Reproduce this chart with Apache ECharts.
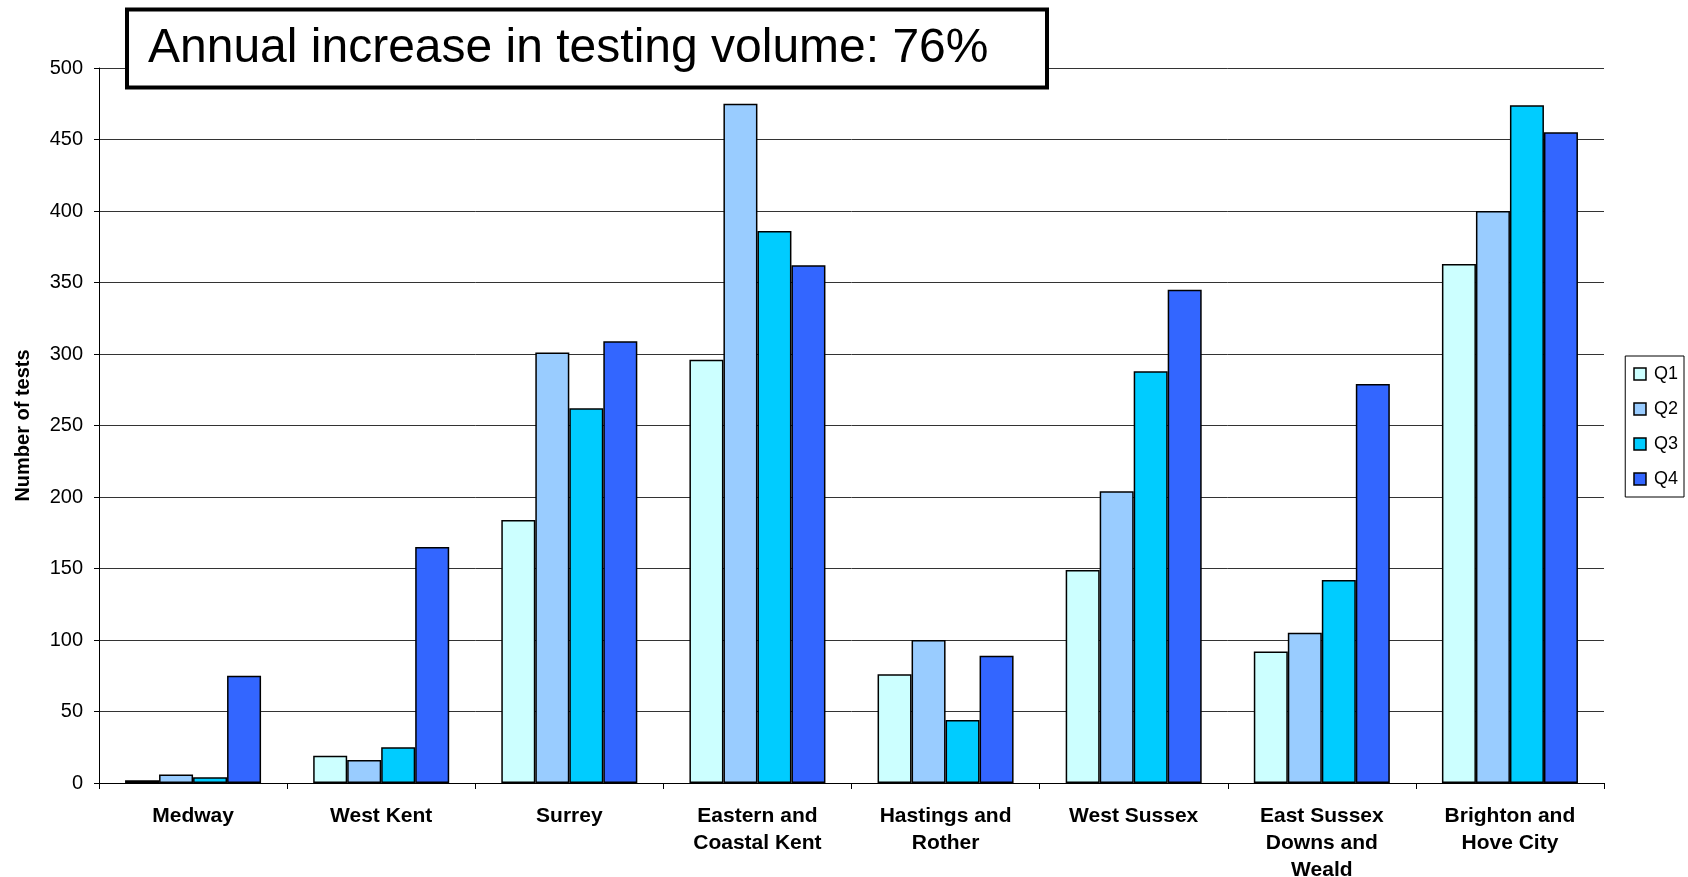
<!DOCTYPE html>
<html><head><meta charset="utf-8">
<script src="https://cdn.jsdelivr.net/npm/echarts@6/dist/echarts.min.js"></script>
<style>html,body{margin:0;padding:0;background:#fff}#c{width:1688px;height:877px}</style>
</head><body><div id="c"></div>
<script>
const categories = ["Medway","West Kent","Surrey","Eastern and\nCoastal Kent","Hastings and\nRother","West Sussex","East Sussex\nDowns and\nWeald","Brighton and\nHove City"];
const q1 = [2, 19, 184, 296, 76, 149, 92, 363];
const q2 = [6, 16, 301, 475, 100, 204, 105, 400];
const q3 = [4, 25, 262, 386, 44, 288, 142, 474];
const q4 = [75, 165, 309, 362, 89, 345, 279, 455];
const seriesNames = ["Q1","Q2","Q3","Q4"];
const colors = ["#CCFFFF","#99CCFF","#00CCFF","#3366FF"];
const titleText = "Annual increase in testing volume: 76%";
const yName = "Number of tests";

const font = "Arial, 'Liberation Sans', sans-serif";
const chart = echarts.init(document.getElementById('c'));
const datas = [q1,q2,q3,q4];
chart.setOption({
  animation:false,
  backgroundColor:'#fff',
  grid:{left:99,right:84,top:68,bottom:94,containLabel:false,outerBoundsMode:'none'},
  legend:{
    orient:'vertical', right:4, top:356,
    data:seriesNames, itemWidth:12, itemHeight:12, itemGap:17,
    borderColor:'#000', borderWidth:1, padding:[9,6,9,8],
    textStyle:{fontFamily:font,fontSize:18,color:'#000',padding:[0,0,0,3]},
    icon:'rect',
    itemStyle:{borderColor:'#000',borderWidth:1.5}
  },
  xAxis:{
    type:'category', data:categories,
    axisLine:{lineStyle:{color:'#000',width:1}},
    axisTick:{show:true,length:6,lineStyle:{color:'#000'}},
    axisLabel:{fontFamily:font,fontSize:21,fontWeight:'bold',color:'#000',margin:20,lineHeight:27,interval:0}
  },
  yAxis:{
    type:'value', min:0, max:500, interval:50,
    name:yName, nameLocation:'middle', nameGap:66,
    nameTextStyle:{fontFamily:font,fontSize:20,fontWeight:'bold',color:'#000'},
    axisLine:{show:true,lineStyle:{color:'#000',width:1}},
    axisTick:{show:true,length:5,lineStyle:{color:'#000'}},
    axisLabel:{fontFamily:font,fontSize:20,color:'#000',margin:16},
    splitLine:{show:true,lineStyle:{color:'#333',width:1}}
  },
  series: seriesNames.map((n,i)=>({
    name:n, type:'bar', data:datas[i],
    barGap:'0%', barCategoryGap:'27.7%',
    itemStyle:{color:colors[i],borderColor:'#000',borderWidth:1.5}
  })),
  graphic:[
    {type:'rect', z:100, shape:{x:127,y:9.5,width:920,height:78},
     style:{fill:'#fff',stroke:'#000',lineWidth:4}},
    {type:'text', z:101, x:148, y:49,
     style:{text:titleText,fontFamily:font,fontSize:48,fill:'#000',textVerticalAlign:'middle',verticalAlign:'middle'}}
  ]
});
</script></body></html>
